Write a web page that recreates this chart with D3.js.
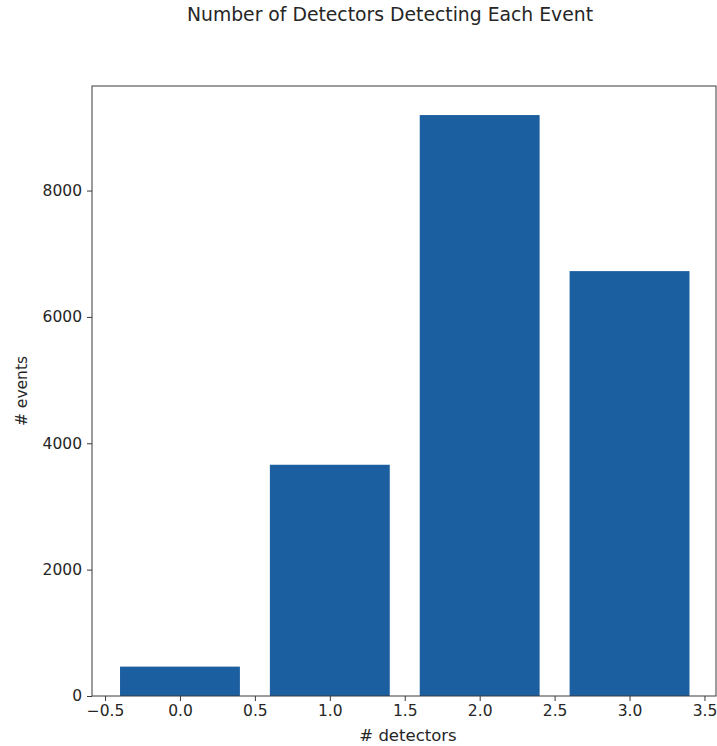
<!DOCTYPE html>
<html>
<head>
<meta charset="utf-8">
<script src="https://cdn.jsdelivr.net/npm/d3@7"></script>
<style>
  html, body { margin: 0; padding: 0; background: #fff; }
  svg { display: block; font-family: "DejaVu Sans", sans-serif; }
</style>
</head>
<body>
<svg id="chart" width="717" height="746"></svg>
<script>
// Number of detectors that registered each event
const detectorCounts = [0, 1, 2, 3];
const eventCounts = [465, 3660, 9195, 6725];
const xTickValues = [-0.5, 0.0, 0.5, 1.0, 1.5, 2.0, 2.5, 3.0, 3.5];
const yTickValues = [0, 2000, 4000, 6000, 8000];
const titleText = "Number of Detectors Detecting Each Event";
const xLabel = "# detectors";
const yLabel = "# events";

const svg = d3.select("#chart");
const plot = { left: 92, top: 86, right: 716, bottom: 696 };
const barWidth = 0.8;

const x = d3.scaleLinear().domain([-0.587, 3.577]).range([plot.left, plot.right]);
const yMax = d3.max(eventCounts) * 1.05;
const y = d3.scaleLinear().domain([0, yMax]).range([plot.bottom, plot.top]);

const textColor = "#262626";
const axisColor = "#3a3a3a";

// bars
svg.append("g")
  .selectAll("rect")
  .data(detectorCounts)
  .join("rect")
  .attr("x", (d) => x(d - barWidth / 2))
  .attr("width", (d) => x(d + barWidth / 2) - x(d - barWidth / 2))
  .attr("y", (d, i) => y(eventCounts[i]))
  .attr("height", (d, i) => y(0) - y(eventCounts[i]))
  .attr("fill", "#1c5fa1");

// frame
svg.append("rect")
  .attr("x", plot.left).attr("y", plot.top)
  .attr("width", plot.right - plot.left).attr("height", plot.bottom - plot.top)
  .attr("fill", "none").attr("stroke", axisColor).attr("stroke-width", 1);

const fmt = (v) => d3.format(".1f")(v).replace("-", "\u2212");

const xAxis = svg.append("g")
  .attr("transform", `translate(0,${plot.bottom})`)
  .call(d3.axisBottom(x).tickValues(xTickValues).tickFormat(fmt).tickSize(5).tickPadding(4));
const yAxis = svg.append("g")
  .attr("transform", `translate(${plot.left},0)`)
  .call(d3.axisLeft(y).tickValues(yTickValues).tickFormat(d3.format("d")).tickSize(5).tickPadding(5));

[xAxis, yAxis].forEach((g) => {
  g.select(".domain").remove();
  g.selectAll(".tick line").attr("stroke", axisColor);
  g.selectAll(".tick text")
    .attr("fill", textColor)
    .style("font-family", "DejaVu Sans, sans-serif")
    .style("font-size", "15.5px");
});

// titles
svg.append("text")
  .attr("x", 390).attr("y", 21)
  .attr("text-anchor", "middle")
  .attr("fill", textColor)
  .style("font-size", "18.8px")
  .text(titleText);

svg.append("text")
  .attr("x", 408).attr("y", 741)
  .attr("text-anchor", "middle")
  .attr("fill", textColor)
  .style("font-size", "16.5px")
  .text(xLabel);

svg.append("text")
  .attr("transform", `translate(27,${(plot.top + plot.bottom) / 2}) rotate(-90)`)
  .attr("text-anchor", "middle")
  .attr("fill", textColor)
  .style("font-size", "15.5px")
  .text(yLabel);
</script>
</body>
</html>
